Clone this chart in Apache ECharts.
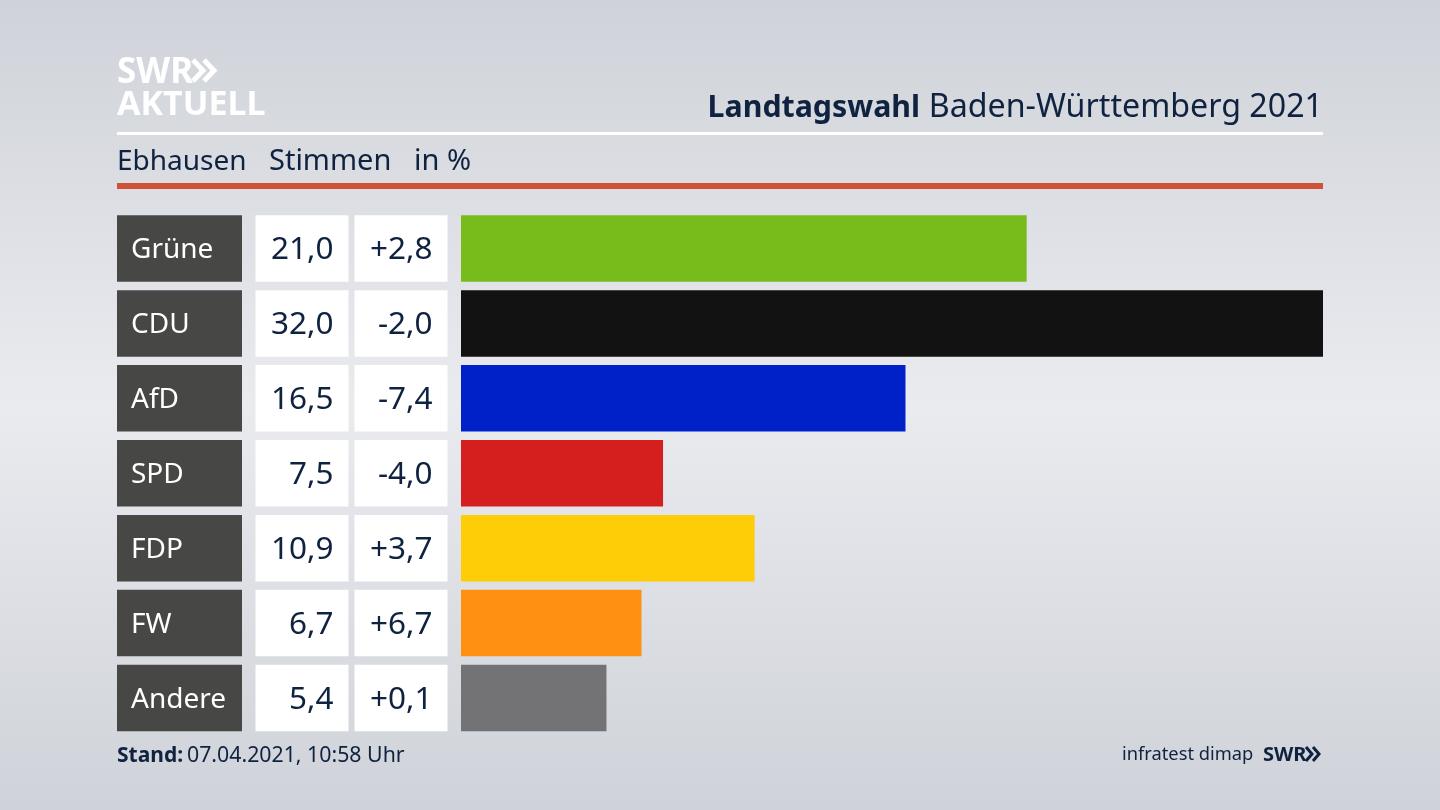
<!DOCTYPE html>
<html>
<head>
<meta charset="utf-8">
<title>Landtagswahl Baden-Württemberg 2021</title>
<script src="https://cdn.jsdelivr.net/npm/echarts@6/dist/echarts.min.js"></script>
<style>
html, body { margin: 0; padding: 0; }
#chart { width: 1440px; height: 810px; }
</style>
</head>
<body>
<div id="chart"></div>
<script>
var myChart = echarts.init(document.getElementById('chart'));

// data
let parties = ['Grüne', 'CDU', 'AfD', 'SPD', 'FDP', 'FW', 'Andere'];
let votes = [21.0, 32.0, 16.5, 7.5, 10.9, 6.7, 5.4];
let changes = ['+2,8', '-2,0', '-7,4', '-4,0', '+3,7', '+6,7', '+0,1'];
let partyColors = ['#78BC1B', '#121212', '#0021C8', '#D51F1F', '#FFCC08', '#FF9012', '#737375'];

let fontName = '"Noto Sans"';
let ink = '#0F2240';

// the three table columns left of the bars: [left, width]
let columns = [[117, 125], [255.5, 93], [354.5, 93]];
let gridTop = 211;
let gridHeight = 524.5;

function categoryAxis(i) {
    return {
        type: 'category',
        gridIndex: i,
        data: parties,
        inverse: true,
        axisLine: { show: false },
        axisTick: { show: false },
        axisLabel: { show: false }
    };
}

function valueAxis(i, max) {
    return {
        type: 'value',
        gridIndex: i,
        min: 0,
        max: max,
        axisLine: { show: false },
        axisTick: { show: false },
        axisLabel: { show: false },
        splitLine: { show: false }
    };
}

// a column is a full width bar with a text label
function cellSeries(i, color, textColor, position, distance, size, texts) {
    return {
        type: 'bar',
        xAxisIndex: i,
        yAxisIndex: i,
        silent: true,
        barWidth: 66.5,
        data: parties.map(function () { return 1; }),
        itemStyle: { color: color },
        label: {
            show: true,
            position: position,
            distance: distance,
            offset: [0, 2],
            color: textColor,
            fontFamily: fontName,
            fontSize: size,
            formatter: function (params) { return texts[params.dataIndex]; }
        }
    };
}

function textItem(x, y, str, size, color, extra) {
    return {
        type: 'text',
        x: x,
        y: y,
        silent: true,
        style: Object.assign({
            text: str,
            fontFamily: fontName,
            fontSize: size,
            fill: color,
            verticalAlign: 'middle'
        }, extra || {})
    };
}

function rule(y, h, color) {
    return { type: 'rect', silent: true, shape: { x: 117, y: y, width: 1206, height: h }, style: { fill: color } };
}

// the two arrows of the SWR logo
function chevron(x, y, w, h, lineWidth, color) {
    return {
        type: 'polyline',
        silent: true,
        shape: { points: [[x, y], [x + w, y + h / 2], [x, y + h]] },
        style: { stroke: color, lineWidth: lineWidth, fill: null }
    };
}

option = {
    animation: false,
    backgroundColor: {
        type: 'linear', x: 0, y: 0, x2: 0, y2: 1,
        colorStops: [
            { offset: 0, color: '#CFD2D8' },
            { offset: 0.5, color: '#E9EBEF' },
            { offset: 1, color: '#CFD2D8' }
        ]
    },
    grid: [
        { left: columns[0][0], width: columns[0][1], top: gridTop, height: gridHeight },
        { left: columns[1][0], width: columns[1][1], top: gridTop, height: gridHeight },
        { left: columns[2][0], width: columns[2][1], top: gridTop, height: gridHeight },
        { left: 461, width: 862, top: gridTop, height: gridHeight }
    ],
    xAxis: [valueAxis(0, 1), valueAxis(1, 1), valueAxis(2, 1), valueAxis(3, 32)],
    yAxis: [categoryAxis(0), categoryAxis(1), categoryAxis(2), categoryAxis(3)],
    series: [
        cellSeries(0, '#474745', '#FFFFFF', 'insideLeft', 14, 28, parties),
        cellSeries(1, '#FFFFFF', ink, 'insideRight', 15, 31.5, votes.map(function (v) { return v.toFixed(1).replace('.', ','); })),
        cellSeries(2, '#FFFFFF', ink, 'insideRight', 15, 31.5, changes),
        {
            type: 'bar',
            xAxisIndex: 3,
            yAxisIndex: 3,
            silent: true,
            barWidth: 66.5,
            data: votes,
            itemStyle: {
                color: function (params) { return partyColors[params.dataIndex]; }
            }
        }
    ],
    graphic: [
        textItem(117, 73, 'SWR', 35, '#FFFFFF', { fontWeight: 'bold' }),
        chevron(193, 60, 10, 21, 5, '#FFFFFF'),
        chevron(204, 60, 10, 21, 5, '#FFFFFF'),
        textItem(117, 105, 'AKTUELL', 34, '#FFFFFF', { fontWeight: 'bold' }),
        textItem(920, 108, 'Landtagswahl', 30.3, ink, { fontWeight: 'bold', align: 'right' }),
        textItem(1323, 108, 'Baden-Württemberg 2021', 32.2, ink, { align: 'right' }),
        rule(132, 3, '#FFFFFF'),
        textItem(117, 162, 'Ebhausen', 28, ink),
        textItem(269, 162, 'Stimmen', 29, ink),
        textItem(414, 162, 'in %', 29, ink),
        rule(183, 6, '#CF5236'),
        textItem(117, 756, 'Stand:', 21, ink, { fontWeight: 'bold' }),
        textItem(187, 756, '07.04.2021, 10:58 Uhr', 21.3, ink),
        textItem(1122, 755, 'infratest dimap', 18.3, ink),
        textItem(1263, 755, 'SWR', 20, ink, { fontWeight: 'bold' }),
        chevron(1306, 747, 6, 14, 3, ink),
        chevron(1313, 747, 6, 14, 3, ink)
    ]
};

myChart.setOption(option);
</script>
</body>
</html>
